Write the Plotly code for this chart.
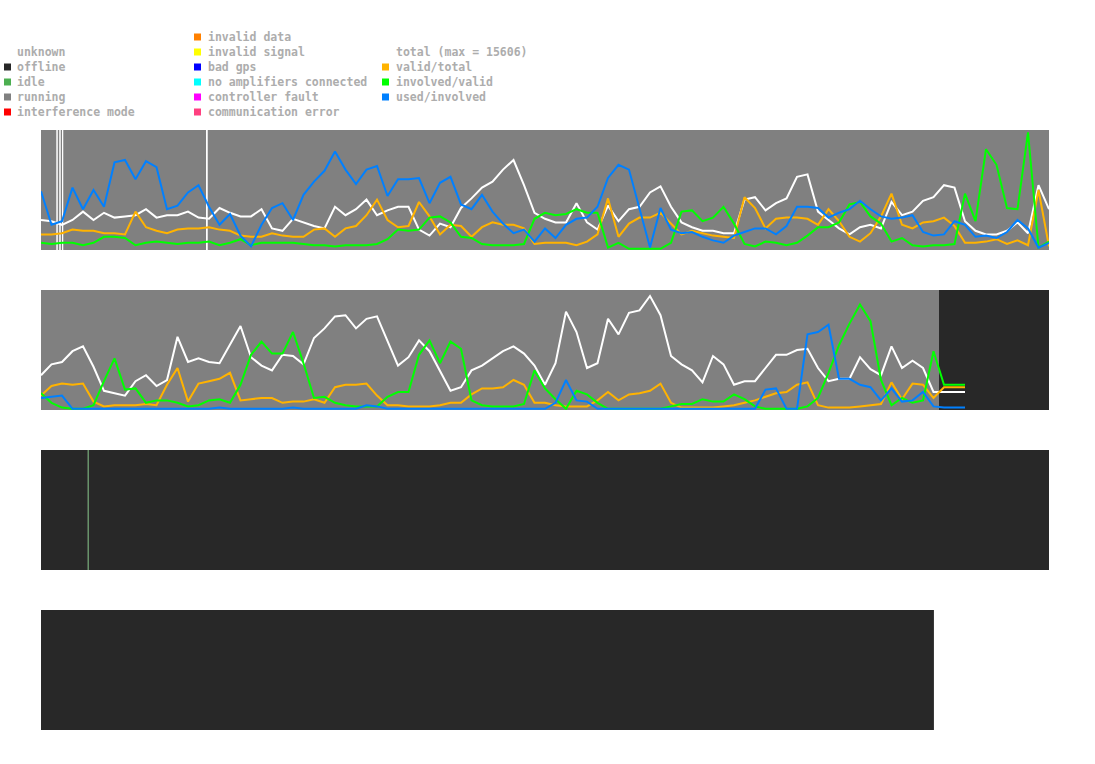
import plotly.graph_objects as go

W, H = 1095, 764

# ---------------- data ----------------
# time grid (hours of day), sampled every 15 minutes
hours_day1 = [i * 0.25 for i in range(97)]
hours_day2 = [i * 0.25 for i in range(89)]

total_max = 15606

# day 1 (fractions 0..1)
day1_total = [0.25,0.24,0.21,0.25,0.32,0.25,0.31,0.27,0.28,0.29,0.34,0.27,0.29,0.29,0.32,0.27,0.26,0.35,0.31,0.28,0.28,0.34,0.18,0.16,
              0.26,0.23,0.20,0.18,0.36,0.29,0.34,0.42,0.29,0.33,0.36,0.36,0.17,0.12,0.22,0.19,0.35,0.43,0.52,0.57,0.67,0.75,0.54,0.31,
              0.26,0.23,0.23,0.39,0.23,0.17,0.37,0.24,0.34,0.36,0.48,0.53,0.36,0.23,0.19,0.16,0.16,0.14,0.14,0.42,0.44,0.33,0.39,
              0.43,0.61,0.63,0.32,0.25,0.18,0.13,0.19,0.21,0.18,0.40,0.29,0.32,0.41,0.44,0.54,0.52,0.24,0.16,0.13,0.13,0.16,0.23,0.14,0.54,0.34]
day1_valid = [0.13,0.13,0.14,0.17,0.16,0.16,0.14,0.14,0.13,0.32,0.19,0.16,0.14,0.17,0.18,0.18,0.19,0.17,0.16,0.12,0.11,0.11,0.14,0.12,
              0.11,0.11,0.17,0.18,0.11,0.18,0.20,0.29,0.42,0.25,0.19,0.20,0.40,0.28,0.13,0.21,0.20,0.11,0.19,0.23,0.21,0.21,0.18,0.05,
              0.06,0.06,0.06,0.04,0.07,0.13,0.43,0.11,0.22,0.27,0.27,0.31,0.22,0.13,0.16,0.14,0.12,0.11,0.10,0.44,0.35,0.18,0.26,
              0.27,0.27,0.26,0.21,0.34,0.24,0.11,0.07,0.14,0.28,0.47,0.21,0.18,0.23,0.24,0.27,0.20,0.06,0.06,0.07,0.09,0.05,0.08,0.04,0.50,0.03]
day1_involved = [0.06,0.05,0.06,0.06,0.04,0.06,0.11,0.11,0.10,0.04,0.06,0.07,0.06,0.05,0.06,0.06,0.07,0.04,0.06,0.09,0.04,0.06,0.06,0.06,
                 0.06,0.05,0.04,0.04,0.03,0.04,0.04,0.04,0.05,0.09,0.17,0.16,0.17,0.27,0.28,0.23,0.11,0.10,0.05,0.04,0.04,0.04,0.05,0.26,
                 0.31,0.29,0.30,0.34,0.31,0.31,0.02,0.06,0.01,0.01,0.01,0.01,0.06,0.32,0.33,0.24,0.27,0.36,0.22,0.05,0.03,0.07,0.06,
                 0.04,0.06,0.12,0.19,0.19,0.23,0.38,0.40,0.28,0.22,0.07,0.10,0.04,0.03,0.04,0.04,0.05,0.47,0.24,0.84,0.71,0.35,0.34,0.98,0.02,0.07]
day1_used = [0.49,0.21,0.24,0.52,0.34,0.50,0.36,0.73,0.75,0.59,0.74,0.69,0.34,0.37,0.48,0.54,0.36,0.21,0.30,0.12,0.03,0.21,0.35,0.39,
             0.25,0.46,0.57,0.66,0.82,0.67,0.55,0.67,0.70,0.45,0.59,0.59,0.60,0.39,0.56,0.61,0.38,0.34,0.46,0.32,0.22,0.14,0.17,0.07,
             0.18,0.10,0.21,0.26,0.27,0.36,0.60,0.71,0.67,0.34,0.02,0.35,0.17,0.14,0.15,0.11,0.08,0.06,0.12,0.15,0.18,0.18,0.13,
             0.20,0.36,0.36,0.35,0.27,0.31,0.34,0.41,0.34,0.28,0.26,0.27,0.29,0.15,0.12,0.13,0.24,0.21,0.11,0.12,0.10,0.15,0.25,0.18,0.02,0.06]

# day 2
day2_total = [0.29,0.38,0.40,0.49,0.53,0.36,0.16,0.14,0.12,0.24,0.29,0.20,0.25,0.61,0.40,0.43,0.40,0.39,0.55,0.70,0.44,0.37,0.33,0.46,0.45,0.38,0.60,0.68,0.78,0.79,0.68,0.76,0.78,
              0.57,0.37,0.44,0.58,0.49,0.32,0.16,0.19,0.33,0.37,0.43,0.49,0.53,0.47,0.37,0.21,0.39,0.82,0.65,0.35,0.39,0.76,0.63,0.81,0.83,0.95,0.79,0.45,0.38,0.33,0.23,0.45,
              0.38,0.21,0.24,0.24,0.35,0.46,0.46,0.50,0.51,0.35,0.24,0.26,0.26,0.44,0.34,0.29,0.53,0.35,0.41,0.35,0.15,0.15,0.15,0.15]
day2_valid = [0.12,0.20,0.22,0.21,0.22,0.07,0.03,0.04,0.04,0.04,0.05,0.04,0.21,0.35,0.07,0.22,0.24,0.26,0.31,0.08,0.09,0.10,0.10,0.06,0.07,0.07,0.09,0.06,0.19,0.21,0.21,0.22,0.12,
              0.04,0.04,0.03,0.03,0.03,0.04,0.06,0.06,0.13,0.18,0.18,0.19,0.25,0.21,0.06,0.06,0.04,0.03,0.03,0.03,0.08,0.15,0.08,0.13,0.14,0.16,0.22,0.06,0.02,0.02,0.02,0.02,
              0.03,0.04,0.06,0.08,0.11,0.14,0.15,0.21,0.23,0.04,0.02,0.02,0.02,0.03,0.04,0.05,0.23,0.09,0.22,0.21,0.10,0.19,0.19,0.19]
day2_involved = [0.14,0.06,0.02,0.01,0.01,0.04,0.24,0.43,0.17,0.18,0.06,0.08,0.08,0.06,0.03,0.04,0.08,0.09,0.06,0.21,0.46,0.57,0.47,0.47,0.65,0.39,0.10,0.11,0.06,0.04,0.03,0.03,0.03,
                 0.11,0.15,0.15,0.46,0.58,0.39,0.57,0.51,0.08,0.04,0.03,0.03,0.03,0.05,0.33,0.18,0.09,0.01,0.16,0.13,0.06,0.01,0.01,0.01,0.01,0.01,0.01,0.03,0.05,0.05,0.09,0.07,
                 0.07,0.13,0.09,0.03,0.01,0.01,0.01,0.01,0.03,0.10,0.31,0.54,0.72,0.88,0.74,0.25,0.04,0.10,0.06,0.08,0.49,0.21,0.21,0.21]
day2_used = [0.10,0.11,0.12,0.01,0.01,0.01,0.01,0.01,0.01,0.01,0.01,0.01,0.01,0.01,0.01,0.01,0.01,0.02,0.01,0.01,0.01,0.01,0.01,0.01,0.02,0.01,0.01,0.01,0.01,0.01,0.01,0.04,0.03,
             0.01,0.01,0.01,0.01,0.01,0.01,0.01,0.01,0.01,0.01,0.01,0.01,0.01,0.01,0.01,0.01,0.06,0.25,0.08,0.07,0.01,0.01,0.01,0.01,0.01,0.01,0.01,0.01,0.01,0.01,0.01,0.01,
             0.01,0.01,0.01,0.01,0.17,0.18,0.01,0.01,0.63,0.65,0.71,0.26,0.26,0.21,0.19,0.08,0.18,0.07,0.08,0.15,0.03,0.02,0.02,0.02]

# status segments per day: (start hour, end hour, state)
day1_states = [(0.0, 0.37, "running"), (0.37, 0.40, "unknown"), (0.40, 0.44, "running"),
               (0.44, 0.47, "unknown"), (0.47, 0.50, "running"), (0.50, 0.53, "unknown"),
               (0.53, 3.93, "running"), (3.93, 3.97, "unknown"), (3.97, 24.0, "running")]
day2_states = [(0.0, 21.38, "running"), (21.38, 24.0, "offline")]
day3_states = [(0.0, 1.115, "offline"), (1.115, 1.135, "idle"), (1.135, 24.0, "offline")]
day4_states = [(0.0, 21.26, "offline")]

state_names = ["unknown", "offline", "idle", "running", "interference mode",
               "invalid data", "invalid signal", "bad gps", "no amplifiers connected",
               "controller fault", "communication error"]
state_colors = ["#ffffff", "#282828", "#4caf50", "#808080", "#ff0000",
                "#ff8000", "#ffff00", "#0000ff", "#00ffff", "#ff00ff", "#ff4080"]
series_names = ["total (max = %d)" % total_max, "valid/total", "involved/valid", "used/involved"]
series_colors = ["#ffffff", "#ffb300", "#00ff00", "#0080ff"]

# ---------------- figure ----------------
STATE_COLOR = dict(zip(state_names, state_colors))
fig = go.Figure()

panels = [
    (hours_day1, [day1_total, day1_valid, day1_involved, day1_used], day1_states),
    (hours_day2, [day2_total, day2_valid, day2_involved, day2_used], day2_states),
    (None, [], day3_states),
    (None, [], day4_states),
]
panel_tops = [130, 290, 450, 610]
panel_h = 120
x_left, x_right = 41, 1049

layout = dict(width=W, height=H, margin=dict(l=0, r=0, t=0, b=0), autosize=False,
              paper_bgcolor="white", plot_bgcolor="rgba(0,0,0,0)", showlegend=False)
shapes = []
annotations = []

for k, (hrs, series, states) in enumerate(panels, start=1):
    top = panel_tops[k - 1]
    xa = "xaxis" if k == 1 else f"xaxis{k}"
    ya = "yaxis" if k == 1 else f"yaxis{k}"
    layout[xa] = dict(domain=[x_left / W, x_right / W], range=[0, 24], visible=False,
                      anchor=f"y{k}" if k > 1 else "y", fixedrange=True)
    layout[ya] = dict(domain=[1 - (top + panel_h) / H, 1 - top / H], range=[0, 1],
                      visible=False, anchor=f"x{k}" if k > 1 else "x", fixedrange=True)
    xref = "x" if k == 1 else f"x{k}"
    yref = ("y" if k == 1 else f"y{k}") + " domain"
    for (s, e, st) in states:
        shapes.append(dict(type="rect", xref=xref, yref=yref, x0=s, x1=e, y0=0, y1=1,
                           fillcolor=STATE_COLOR[st], line=dict(width=0), layer="below"))
    for vals, col in zip(series, series_colors):
        fig.add_trace(go.Scatter(x=hrs[:len(vals)], y=vals, mode="lines",
                                 line=dict(color=col, width=2),
                                 xaxis=xref, yaxis=yref.replace(" domain", ""),
                                 hoverinfo="skip"))

# ---------------- legend ----------------
font = dict(family="DejaVu Sans Mono", size=11.5, color="#adadad")
legend_cols = [
    (4, 17, [(n, STATE_COLOR[n]) for n in state_names[:5]], 52),
    (194, 208, [(n, STATE_COLOR[n]) for n in state_names[5:]], 37),
    (382, 396, list(zip(series_names, [None] + series_colors[1:])), 52),
]
for mx, tx, items, y0 in legend_cols:
    for j, (name, col) in enumerate(items):
        cy = y0 + 15 * j
        if col is not None:
            shapes.append(dict(type="rect", xref="paper", yref="paper",
                               x0=mx / W, x1=(mx + 7) / W,
                               y0=1 - (cy + 3.5) / H, y1=1 - (cy - 3.5) / H,
                               fillcolor=col, line=dict(width=0)))
        annotations.append(dict(text=f"<b>{name}</b>", xref="paper", yref="paper",
                                x=(tx - 2) / W, y=1 - cy / H, xanchor="left", yanchor="middle",
                                showarrow=False, font=font))

layout["shapes"] = shapes
layout["annotations"] = annotations
fig.update_layout(**layout)
fig.write_html("out.html")
